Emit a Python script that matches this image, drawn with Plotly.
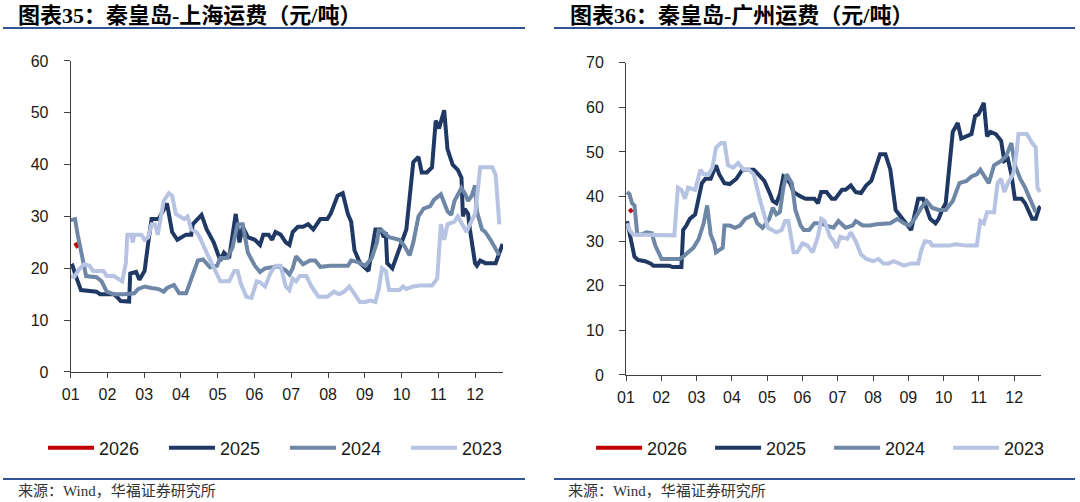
import plotly.graph_objects as go

# x is the position in months from Jan 1 (0 = "01", 11 = "12")
MONTH_TICKS = list(range(12))
MONTH_LABELS = ["01", "02", "03", "04", "05", "06", "07", "08", "09", "10", "11", "12"]
YEARS = ["2026", "2025", "2024", "2023"]
COLORS = ["#C00000", "#1F3864", "#6E87A6", "#B7C3E3"]

# 秦皇岛-上海 (元/吨)
sh_2026_x = [0.12, 0.20]
sh_2026_y = [24.9, 24.0]

sh_2025_x = [0.00, 0.05, 0.14, 0.28, 0.70, 0.80, 1.17, 1.26, 1.36, 1.59, 1.62, 1.78, 1.87, 2.01,
             2.11, 2.20, 2.39, 2.62, 2.76, 2.90, 3.14, 3.28, 3.32, 3.56, 3.70, 3.89, 4.07, 4.17,
             4.31, 4.49, 4.59, 4.68, 4.82, 5.01, 5.15, 5.24, 5.38, 5.48, 5.57, 5.71, 5.85, 5.95,
             6.04, 6.18, 6.32, 6.46, 6.60, 6.79, 6.98, 7.07, 7.26, 7.40, 7.54, 7.63, 7.72, 7.87,
             8.10, 8.29, 8.43, 8.52, 8.57, 8.61, 8.75, 8.94, 9.13, 9.32, 9.46, 9.55, 9.69, 9.83,
             9.93, 10.02, 10.16, 10.25, 10.39, 10.53, 10.63, 10.67, 10.72, 10.81, 10.86, 11.00,
             11.05, 11.14, 11.28, 11.56, 11.66, 11.75]
sh_2025_y = [20.3, 20.5, 18.5, 15.8, 15.5, 15.0, 15.0, 14.5, 13.7, 13.6, 19.0, 19.3, 17.8, 19.5,
             25.0, 29.5, 29.5, 32.5, 27.0, 25.5, 26.5, 26.5, 28.5, 30.3, 27.5, 25.0, 21.5, 23.0,
             22.0, 30.5, 25.0, 28.0, 26.0, 25.5, 24.5, 26.5, 26.5, 25.5, 27.0, 26.5, 25.0, 24.5,
             27.0, 28.0, 28.0, 28.5, 27.5, 29.5, 29.5, 30.5, 34.0, 34.5, 30.5, 29.0, 23.5, 21.0,
             19.5, 27.5, 27.5, 26.0, 27.0, 21.0, 20.0, 23.5, 27.5, 40.5, 41.5, 38.5, 38.5, 39.5,
             48.5, 47.0, 50.5, 43.0, 40.0, 39.0, 37.5, 30.0, 31.5, 30.5, 27.5, 21.0,
             20.5, 21.5, 21.0, 21.0, 23.0, 24.7]

sh_2024_x = [0.00, 0.12, 0.19, 0.33, 0.42, 0.70, 0.84, 0.98, 1.17, 1.45, 1.73, 1.83, 2.01, 2.20,
             2.39, 2.53, 2.62, 2.81, 2.95, 3.14, 3.23, 3.46, 3.60, 3.79, 3.98, 4.07, 4.26, 4.40,
             4.54, 4.68, 4.82, 4.92, 5.01, 5.15, 5.29, 5.48, 5.66, 5.85, 5.95, 6.04, 6.13, 6.32,
             6.51, 6.65, 6.79, 7.07, 7.35, 7.54, 7.63, 7.82, 8.01, 8.19, 8.33, 8.38, 8.47, 8.66,
             8.94, 9.08, 9.22, 9.32, 9.46, 9.60, 9.78, 9.88, 10.07, 10.25, 10.35, 10.44, 10.63,
             10.72, 10.81, 10.91, 11.00, 11.05, 11.19, 11.28, 11.42, 11.56, 11.66]
sh_2024_y = [29.3, 29.5, 26.5, 22.0, 18.5, 18.3, 17.5, 15.5, 15.0, 15.0, 15.2, 16.0, 16.5, 16.2,
             16.0, 15.5, 16.2, 16.8, 15.2, 15.2, 17.0, 21.5, 21.7, 20.2, 20.5, 22.0, 22.0, 24.0,
             28.5, 28.5, 23.0, 21.5, 20.5, 19.3, 20.0, 20.2, 20.4, 19.6, 18.8, 20.0, 22.3, 20.8,
             21.5, 21.5, 20.3, 20.5, 20.5, 20.5, 21.5, 21.2, 20.5, 22.0, 25.0, 27.3, 27.3, 26.0,
             25.5, 24.3, 22.5, 25.0, 30.0, 31.5, 32.0, 33.2, 34.3, 31.0, 30.3, 33.0, 35.5,
             34.5, 33.0, 34.0, 36.0, 31.0, 27.5, 27.0, 25.5, 23.5, 22.5]

sh_2023_x = [0.00, 0.09, 0.23, 0.37, 0.51, 0.61, 0.89, 0.98, 1.17, 1.31, 1.40, 1.50, 1.54, 1.64,
             1.69, 1.73, 1.92, 2.01, 2.11, 2.20, 2.29, 2.37, 2.43, 2.53, 2.67, 2.76, 2.86, 3.00,
             3.09, 3.18, 3.28, 3.42, 3.51, 3.70, 3.89, 4.07, 4.31, 4.45, 4.54, 4.63, 4.78, 4.92,
             5.06, 5.15, 5.29, 5.43, 5.57, 5.71, 5.85, 5.95, 6.04, 6.13, 6.23, 6.41, 6.55, 6.74,
             6.98, 7.16, 7.30, 7.44, 7.58, 7.72, 7.87, 8.01, 8.15, 8.29, 8.38, 8.47, 8.57, 8.66,
             8.94, 9.04, 9.13, 9.32, 9.50, 9.83, 9.97, 10.07, 10.16, 10.25, 10.44, 10.53, 10.67,
             10.77, 10.86, 10.96, 11.00, 11.05, 11.14, 11.47, 11.56, 11.66]
sh_2023_y = [18.5, 18.3, 19.8, 20.8, 20.5, 19.5, 19.5, 18.5, 18.5, 18.0, 17.5, 21.0, 26.5, 26.5,
             25.0, 26.5, 26.5, 25.5, 26.0, 28.5, 28.5, 26.5, 29.0, 33.0, 34.5, 34.0, 30.5, 30.0,
             29.5, 30.0, 27.5, 27.0, 26.0, 23.0, 20.0, 17.5, 17.5, 19.5, 19.5, 17.0, 14.5, 14.3,
             17.5, 17.3, 16.5, 19.0, 20.5, 20.5, 16.5, 15.8, 18.0, 17.5, 18.5, 18.5, 16.5, 14.5,
             14.5, 15.5, 15.0, 15.5, 16.5, 15.0, 13.5, 13.5, 13.8, 13.5, 16.0, 20.0, 19.5, 15.8,
             15.8, 16.5, 16.0, 16.5, 16.7, 16.7, 18.0, 28.5, 25.5, 28.5, 29.0, 30.0, 28.0,
             27.0, 28.5, 30.0, 30.5, 33.5, 39.5, 39.5, 38.0, 28.5]

# 秦皇岛-广州 (元/吨)
gz_2026_x = [0.10, 0.17]
gz_2026_y = [37.2, 36.5]

gz_2025_x = [0.03, 0.15, 0.24, 0.34, 0.54, 0.69, 0.78, 1.22, 1.32, 1.57, 1.62, 1.71, 1.81, 1.96,
             2.06, 2.15, 2.25, 2.40, 2.55, 2.64, 2.79, 2.94, 3.13, 3.28, 3.38, 3.62, 3.77, 3.92,
             4.06, 4.16, 4.26, 4.36, 4.46, 4.55, 4.65, 4.75, 4.95, 5.09, 5.34, 5.44, 5.53, 5.68,
             5.83, 5.93, 6.12, 6.22, 6.37, 6.51, 6.66, 6.81, 6.95, 7.05, 7.20, 7.35, 7.49, 7.64,
             7.74, 7.84, 7.93, 8.08, 8.18, 8.28, 8.42, 8.52, 8.62, 8.77, 8.86, 8.96, 9.06, 9.26,
             9.40, 9.50, 9.65, 9.79, 9.89, 9.99, 10.14, 10.23, 10.33, 10.48, 10.63, 10.72, 10.82,
             10.92, 11.02, 11.21, 11.31, 11.41, 11.51, 11.61, 11.71, 11.75]
gz_2025_y = [34.5, 30.0, 26.5, 25.8, 25.5, 25.0, 24.5, 24.5, 24.2, 24.2, 32.5, 33.5, 35.0, 36.0,
             40.0, 43.0, 44.0, 44.0, 47.0, 45.0, 43.0, 42.8, 44.0, 45.8, 46.0, 46.0, 44.8, 43.5,
             41.0, 39.0, 38.5, 40.5, 44.5, 44.0, 43.0, 41.0, 40.0, 39.5, 39.5, 38.5, 41.0, 41.0,
             39.5, 39.5, 41.5, 41.5, 42.5, 41.0, 40.8, 42.5, 43.5, 46.0, 49.5, 49.5, 46.0, 37.0,
             36.0, 35.0, 34.0, 32.5, 36.0, 39.5, 39.5, 37.5, 35.0, 34.0, 35.0, 37.0, 38.5, 54.5,
             56.5, 53.0, 53.5, 54.0, 58.0, 58.5, 61.0, 53.5, 54.5, 54.0, 52.5, 48.0, 48.5,
             45.0, 39.5, 39.5, 38.5, 36.5, 35.0, 35.0, 37.5, 37.7]

gz_2024_x = [0.03, 0.10, 0.17, 0.24, 0.32, 0.44, 0.59, 0.73, 0.83, 0.93, 1.01, 1.52, 1.62, 1.76,
             1.91, 2.06, 2.20, 2.30, 2.40, 2.50, 2.55, 2.64, 2.74, 2.79, 2.94, 3.09, 3.23, 3.38,
             3.53, 3.62, 3.72, 3.87, 3.97, 4.06, 4.16, 4.26, 4.36, 4.46, 4.55, 4.70, 4.80, 4.95,
             5.04, 5.19, 5.34, 5.53, 5.68, 5.88, 6.02, 6.22, 6.42, 6.51, 6.71, 6.91, 7.10, 7.30,
             7.49, 7.69, 7.88, 8.03, 8.18, 8.37, 8.52, 8.67, 8.86, 9.06, 9.26, 9.45, 9.65, 9.79,
             9.94, 10.04, 10.19, 10.28, 10.43, 10.63, 10.77, 10.92, 11.02, 11.17, 11.31, 11.46,
             11.61]
gz_2024_y = [41.0, 40.5, 38.5, 38.0, 31.5, 31.5, 32.0, 31.8, 29.0, 27.5, 26.0, 26.0, 26.5, 27.5,
             28.5, 30.5, 34.0, 38.0, 31.5, 29.5, 27.5, 28.0, 28.5, 33.5, 33.5, 33.0, 33.5, 35.0,
             35.5, 36.0, 34.0, 33.0, 34.0, 35.0, 37.5, 36.0, 36.5, 42.0, 45.0, 43.0, 37.0, 33.5,
             32.5, 32.5, 34.0, 34.0, 33.5, 33.0, 34.5, 33.0, 33.5, 34.5, 33.5, 33.5, 33.8, 34.0,
             34.0, 35.0, 34.0, 33.5, 35.0, 37.5, 39.0, 37.5, 37.0, 37.0, 39.0, 43.0, 43.5, 44.5,
             45.0, 46.0, 44.0, 43.0, 47.0, 48.0, 49.0, 52.0, 47.0, 44.0, 42.0, 39.0,
             36.5]

gz_2023_x = [0.03, 0.10, 0.20, 0.83, 1.37, 1.47, 1.57, 1.67, 1.76, 1.96, 2.11, 2.20, 2.35, 2.45,
             2.55, 2.69, 2.79, 2.89, 3.04, 3.18, 3.33, 3.48, 3.62, 3.77, 3.92, 4.02, 4.26, 4.41,
             4.51, 4.60, 4.75, 4.85, 5.00, 5.14, 5.29, 5.44, 5.53, 5.63, 5.78, 5.88, 5.97, 6.07,
             6.27, 6.37, 6.51, 6.66, 6.81, 7.00, 7.15, 7.30, 7.44, 7.59, 7.74, 7.88, 8.08, 8.28,
             8.37, 8.47, 8.62, 8.67, 9.16, 9.35, 9.65, 9.94, 10.04, 10.14, 10.23, 10.43, 10.53,
             10.63, 10.72, 10.82, 10.97, 11.07, 11.12, 11.36, 11.51, 11.61, 11.66, 11.73]
gz_2023_y = [34.0, 32.5, 31.5, 31.5, 31.3, 42.0, 41.5, 39.5, 42.0, 41.5, 46.0, 45.0, 45.0, 46.5,
             51.0, 52.0, 52.0, 47.0, 46.5, 47.5, 46.0, 46.0, 45.0, 40.0, 36.0, 33.0, 32.0, 32.5,
             34.5, 34.5, 27.5, 27.5, 29.5, 29.0, 27.5, 31.0, 35.0, 34.5, 31.0, 30.0, 28.5, 31.0,
             30.5, 32.0, 30.0, 27.0, 26.0, 25.5, 26.0, 25.0, 25.0, 25.5, 25.0, 24.5, 25.0, 25.0,
             28.0, 30.0, 29.8, 29.0, 29.0, 29.3, 29.0, 29.0, 34.5, 34.0, 36.5, 36.5, 43.0,
             44.0, 41.0, 43.0, 45.0, 50.0, 54.0, 54.0, 52.0, 51.0, 42.0, 41.0]

SH_SERIES = [(sh_2026_x, sh_2026_y), (sh_2025_x, sh_2025_y),
             (sh_2024_x, sh_2024_y), (sh_2023_x, sh_2023_y)]
GZ_SERIES = [(gz_2026_x, gz_2026_y), (gz_2025_x, gz_2025_y),
             (gz_2024_x, gz_2024_y), (gz_2023_x, gz_2023_y)]

TICK_FONT = dict(family="Liberation Sans, Arial", size=16, color="#1a1a1a")
SERIF = "Liberation Serif, Noto Sans CJK SC"
RULE_COLOR = "#2F5597"
AXIS_COLOR = "#404040"

fig = go.Figure()

# left chart -> x/y, right chart -> x2/y2
for series, xa, ya, leg in [(SH_SERIES, "x", "y", "legend"), (GZ_SERIES, "x2", "y2", "legend2")]:
    for (xs, ys), name, color in zip(series, YEARS, COLORS):
        fig.add_trace(
            go.Scatter(
                x=xs,
                y=ys,
                mode="lines",
                name=name,
                line=dict(color=color, width=4),
                xaxis=xa,
                yaxis=ya,
                legend=leg,
            )
        )

xaxis_common = dict(
    range=[0, 11.76],
    tickmode="array",
    tickvals=MONTH_TICKS,
    ticktext=MONTH_LABELS,
    ticks="outside",
    ticklen=5,
    tickcolor=AXIS_COLOR,
    showline=True,
    linecolor=AXIS_COLOR,
    linewidth=1,
    showgrid=False,
    zeroline=False,
    tickfont=TICK_FONT,
    ticklabelstandoff=3,
    fixedrange=True,
)
yaxis_common = dict(
    dtick=10,
    ticks="outside",
    ticklen=6,
    tickcolor=AXIS_COLOR,
    showline=True,
    linecolor=AXIS_COLOR,
    linewidth=1,
    showgrid=False,
    zeroline=False,
    tickfont=TICK_FONT,
    ticklabelstandoff=12,
    fixedrange=True,
)

legend_common = dict(
    orientation="h",
    yanchor="middle",
    xanchor="left",
    y=0.1076,
    font=dict(family="Liberation Sans, Arial", size=18, color="#1a1a1a"),
    itemwidth=46,
    bgcolor="rgba(0,0,0,0)",
    itemclick=False,
    itemdoubleclick=False,
)

fig.update_layout(
    width=1080,
    height=502,
    autosize=False,
    margin=dict(l=0, r=0, t=0, b=0, autoexpand=False),
    paper_bgcolor="white",
    plot_bgcolor="white",
    xaxis=dict(domain=[0.06546, 0.46574], anchor="y", **xaxis_common),
    yaxis=dict(domain=[0.25896, 0.87849], anchor="x", range=[0, 60], **yaxis_common),
    xaxis2=dict(domain=[0.57963, 0.96389], anchor="y2", **xaxis_common),
    yaxis2=dict(domain=[0.25299, 0.87510], anchor="x2", range=[0, 70], **yaxis_common),
    legend=dict(x=0.0398, entrywidth=60, **legend_common),
    legend2=dict(x=0.5473, entrywidth=58, **legend_common),
    showlegend=True,
)

# titles and source notes
for x, title, src_x in [(0.0144, "图表35：秦皇岛-上海运费（元/吨）", 0.0144),
                        (0.5255, "图表36：秦皇岛-广州运费（元/吨）", 0.5241)]:
    fig.add_annotation(
        text=f"<b>{title}</b>", x=x, y=0.970, xref="paper", yref="paper",
        xanchor="left", yanchor="middle", showarrow=False,
        font=dict(family=SERIF, size=22, color="#000000"),
    )
    fig.add_annotation(
        text="来源：Wind，华福证券研究所", x=src_x, y=0.0219, xref="paper", yref="paper",
        xanchor="left", yanchor="middle", showarrow=False,
        font=dict(family=SERIF, size=15, color="#333333"),
    )

# blue rules under titles and above source notes
for x0, x1 in [(0.0028, 0.4861), (0.5130, 0.9954)]:
    for yy in [0.9442, 0.0458]:
        fig.add_shape(
            type="line", xref="paper", yref="paper",
            x0=x0, x1=x1, y0=yy, y1=yy,
            line=dict(color=RULE_COLOR, width=2),
        )

# the page's default body margin would push the figure 8px down/right
fig.write_html(
    "out.html",
    config={"displayModeBar": False},
    post_script="document.body.style.margin = '0px';",
)
